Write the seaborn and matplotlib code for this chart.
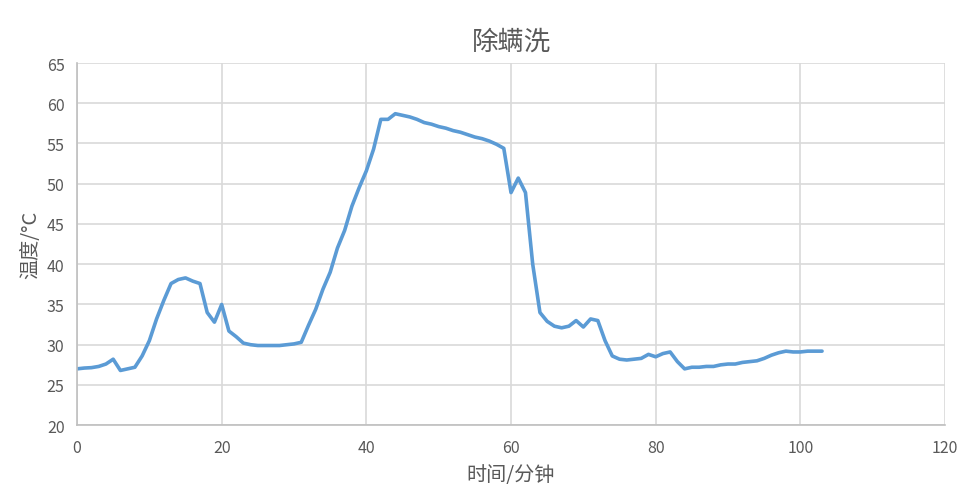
import numpy as np
import pandas as pd
import matplotlib
matplotlib.use("Agg")
import matplotlib.pyplot as plt
import seaborn as sns

# Data (one reading per minute)
minutes = list(range(0, 104))
temps = [
    27.0, 27.1, 27.15, 27.3, 27.6, 28.2, 26.8, 27.0, 27.2, 28.6,
    30.5, 33.2, 35.5, 37.6, 38.1, 38.3, 37.9, 37.6, 34.0, 32.8,
    35.0, 31.7, 31.0, 30.2, 30.0, 29.9, 29.9, 29.9, 29.9, 30.0,
    30.1, 30.3, 32.4, 34.4, 36.9, 39.0, 42.0, 44.2, 47.2, 49.5,
    51.6, 54.3, 58.0, 58.0, 58.7, 58.5, 58.3, 58.0, 57.6, 57.4,
    57.1, 56.9, 56.6, 56.4, 56.1, 55.8, 55.6, 55.3, 54.9, 54.4,
    48.9, 50.7, 48.9, 40.0, 34.0, 32.9, 32.3, 32.1, 32.3, 33.0,
    32.2, 33.2, 33.0, 30.5, 28.6, 28.2, 28.1, 28.2, 28.3, 28.8,
    28.5, 28.9, 29.1, 27.9, 27.0, 27.2, 27.2, 27.3, 27.3, 27.5,
    27.6, 27.6, 27.8, 27.9, 28.0, 28.3, 28.7, 29.0, 29.2, 29.1,
    29.1, 29.2, 29.2, 29.2,
]
x_ticks = [0, 20, 40, 60, 80, 100, 120]
y_ticks = [20, 25, 30, 35, 40, 45, 50, 55, 60, 65]

df = pd.DataFrame({"minute": minutes, "temp": temps})

sns.set_theme(style="white")
plt.rcParams["font.family"] = ["Noto Sans CJK SC", "DejaVu Sans"]

text_color = "#595959"
grid_color = "#d9d9d9"

fig = plt.figure(figsize=(9.65, 5.02), dpi=100)
ax = fig.add_axes([0.0798, 0.151, 0.8995, 0.7215])

sns.lineplot(data=df, x="minute", y="temp", ax=ax, color="#5b9bd5", linewidth=2.6)

ax.set_xlim(0, 120)
ax.set_ylim(20, 65)
ax.set_xticks(x_ticks)
ax.set_yticks(y_ticks)
ax.grid(True, color=grid_color, linewidth=1.2)
ax.set_axisbelow(True)

for side in ["top", "right"]:
    ax.spines[side].set_visible(False)
for side in ["left", "bottom"]:
    ax.spines[side].set_color("#bfbfbf")
    ax.spines[side].set_linewidth(1.2)

ax.tick_params(axis="both", length=0, labelsize=11.5, colors=text_color)
ax.tick_params(axis="x", pad=10)
ax.tick_params(axis="y", pad=9)

ax.set_title("除螨洗", fontsize=19, color=text_color, pad=10, fontweight="light")
ax.set_xlabel("时间/分钟", fontsize=14.5, color=text_color, labelpad=6)
ax.set_ylabel("温度/°C", fontsize=14.5, color=text_color, labelpad=4)

fig.savefig("out.png", dpi=100)
